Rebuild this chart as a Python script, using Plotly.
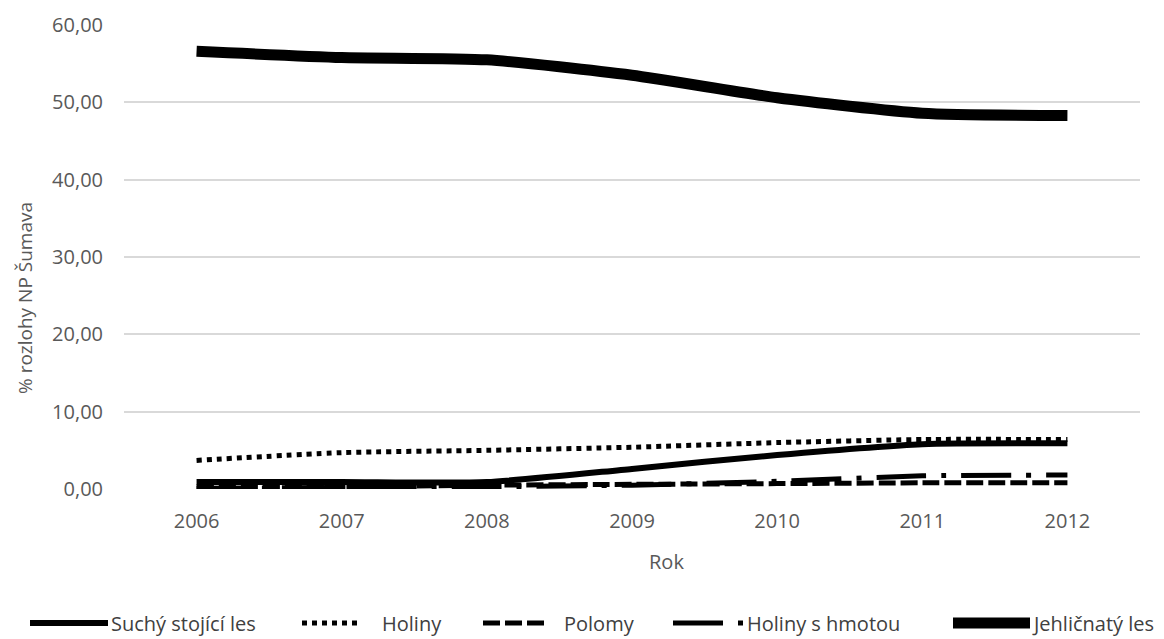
import plotly.graph_objects as go

years = ["2006", "2007", "2008", "2009", "2010", "2011", "2012"]
such_stojici = [0.9, 0.9, 0.9, 2.6, 4.4, 5.8, 5.9]
holiny = [3.7, 4.7, 5.0, 5.4, 6.0, 6.4, 6.4]
polomy = [0.3, 0.3, 0.5, 0.6, 0.7, 0.8, 0.8]
holiny_hmota = [0.1, 0.2, 0.3, 0.5, 1.0, 1.7, 1.8]
jehlicnaty = [56.6, 55.8, 55.5, 53.5, 50.6, 48.6, 48.3]

names = ["Suchý stojící les", "Holiny", "Polomy", "Holiny s hmotou", "Jehličnatý les"]
values = [such_stojici, holiny, polomy, holiny_hmota, jehlicnaty]
x_title = "Rok"
y_title = "% rozlohy NP Šumava"

# styles
dashes = ["solid", "5px,5px", "17px,5px", "50px,15px,5px,15px", "solid"]
widths = [6, 5, 5, 5, 11]
# legend geometry in screen pixels: symbol start, symbol end, text start
leg_sym = [(30, 108), (302, 358), (483, 544), (673, 748), (953, 1030)]
leg_text_x = [109, 380, 562, 745, 1030]

OFF = 8  # page body margin
W, H = 1164 - OFF, 639 - OFF
L, T = 124 - OFF, 25 - OFF
R = W - (1140 - OFF)
B = H - (489 - OFF)
PW, PH = W - L - R, H - T - B


def px_x(sx):
    return (sx - OFF - L) / PW


def px_y(sy):
    return (H - B - (sy - OFF)) / PH


fig = go.Figure()
for name, vals, dash, w in zip(names, values, dashes, widths):
    fig.add_trace(go.Scatter(
        x=years, y=vals, name=name, mode="lines", showlegend=False,
        line=dict(color="black", width=w, dash=dash, shape="spline", smoothing=0.6),
    ))

font = "Open Sans, sans-serif"
legend_y = 623
for name, dash, w, (s0, s1), tx in zip(names, dashes, widths, leg_sym, leg_text_x):
    fig.add_shape(type="line", xref="paper", yref="paper",
                  x0=px_x(s0), x1=px_x(s1), y0=px_y(legend_y), y1=px_y(legend_y),
                  line=dict(color="black", width=w, dash=dash))
    fig.add_annotation(xref="paper", yref="paper", x=px_x(tx), y=px_y(legend_y),
                       text=name, showarrow=False, xanchor="left", yanchor="middle",
                       font=dict(family=font, size=20, color="#404040"))

# axis titles
fig.add_annotation(xref="paper", yref="paper", x=px_x(666), y=px_y(561),
                   text=x_title, showarrow=False, xanchor="center", yanchor="middle",
                   font=dict(family=font, size=20, color="#595959"))
fig.add_annotation(xref="paper", yref="paper", x=px_x(25), y=px_y(298),
                   text=y_title, showarrow=False, xanchor="center", yanchor="middle",
                   textangle=-90, font=dict(family=font, size=19, color="#595959"))

fig.update_layout(
    width=W, height=H,
    margin=dict(l=L, r=R, t=T, b=B, autoexpand=False),
    plot_bgcolor="white", paper_bgcolor="white",
    font=dict(family=font, size=20, color="#595959"),
    showlegend=False,
    xaxis=dict(
        type="category", showgrid=False, showline=False, zeroline=False,
        ticks="", tickfont=dict(size=20, color="#595959"), ticklabelstandoff=18,
        range=[-0.5, 6.5],
    ),
    yaxis=dict(
        range=[0, 60], dtick=10, tickformat=".2f",
        showgrid=True, gridcolor="#d9d9d9", gridwidth=2, zeroline=False,
        showline=False, ticks="", tickfont=dict(size=20, color="#595959"),
        ticklabelstandoff=20,
    ),
    separators=", ",
)
fig.write_html("out.html")
